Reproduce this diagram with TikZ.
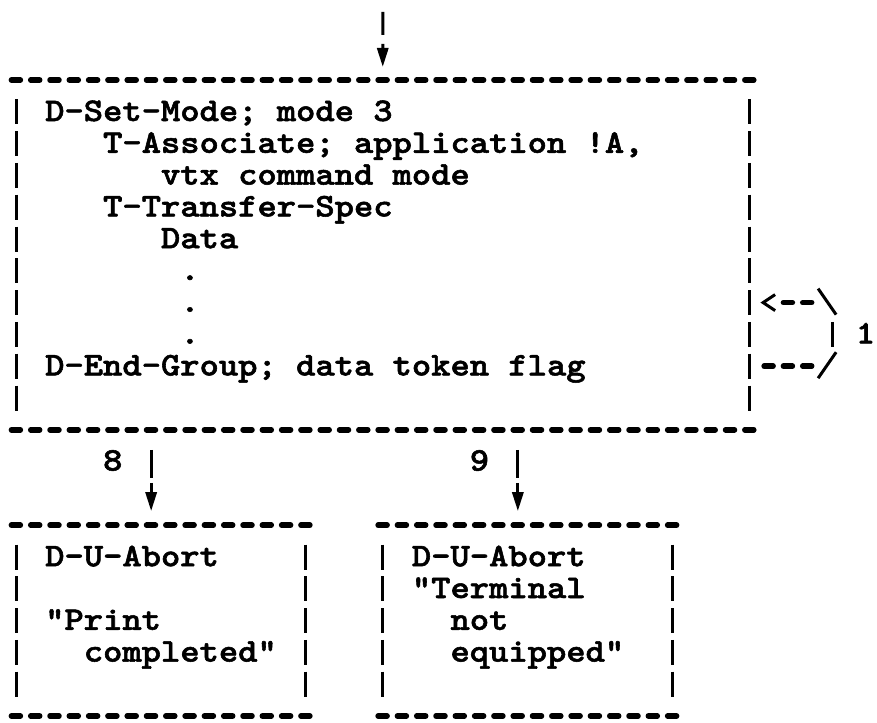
\documentclass[tikz,border=0pt]{standalone}
\usepackage{fontspec}
\usetikzlibrary{calc,arrows.meta}

% heavy typewriter face for all the printed characters
\newfontfamily\asciifont{lmmonolt10-bold}[Extension=.otf, FakeBold=1.6]

% character grid: 19.3pt per column, 31.8pt per row
\newcommand{\colx}[1]{45+19.3*(#1)}
\newcommand{\rowy}[1]{80+31.8*(#1)}
\newcommand{\asciilines}[1]{\scalebox{1.114}[1]{\begin{tabular}{@{}l@{}}#1\end{tabular}}}
\newcommand{\asciichar}[1]{\scalebox{1.114}[1]{#1}}

\tikzset{
  ascii/.style={font=\asciifont\fontsize{33}{31.8}\selectfont, inner sep=0pt},
  frame/.style={rectangle, inner sep=0pt, outer sep=0pt, draw=none},
  hdash/.style={line width=5.5pt, line cap=round, dash pattern=on 9pt off 10.3pt},
  vbar/.style={line width=3pt, dash pattern=on 25pt off 6.8pt},
  stroke/.style={line width=3pt},
  flow/.style={line width=3pt, -{Triangle[width=11pt,length=19pt]}},
}

\begin{document}
\begin{tikzpicture}[x=1pt, y=-1pt]
\useasboundingbox (0,0) rectangle (877,722);

% box outlines (frames only, text placed separately)
\node[frame, anchor=north west, minimum width=752.7pt, minimum height=349.8pt] (main) at ({\colx{-2}},{\rowy{0}}) {};
\node[frame, anchor=north west, minimum width=308.8pt, minimum height=190.8pt] (boxa) at ({\colx{-2}},{\rowy{14}}) {};
\node[frame, anchor=north west, minimum width=308.8pt, minimum height=190.8pt] (boxb) at ({\colx{17}},{\rowy{14}}) {};

\foreach \b in {main, boxa, boxb} {
  \draw[hdash] ($(\b.north west)+(5,0)$) -- ($(\b.north east)+(-5,0)$);
  \draw[hdash] ($(\b.south west)+(5,0)$) -- ($(\b.south east)+(-5,0)$);
  \draw[vbar] ($(\b.north west)+(9.65,19.3)$) -- ($(\b.south west)+(9.65,-19.3)$);
  \draw[vbar] ($(\b.north east)+(-9.65,19.3)$) -- ($(\b.south east)+(-9.65,-19.3)$);
}

% box contents
\node[ascii, anchor=north west] (maintext) at ({\colx{0}},{\rowy{1}-13.26}) {\asciilines{%
D-Set-Mode; mode 3\\
~~~T-Associate; application !A,\\
~~~~~~vtx command mode\\
~~~T-Transfer-Spec\\
~~~~~~Data\\
~~~~~~~.\\
~~~~~~~.\\
~~~~~~~.\\
D-End-Group; data token flag}};

\node[ascii, anchor=north west] (texta) at ({\colx{0}},{\rowy{15}-13.26}) {\asciilines{%
D-U-Abort\\
\\
"Print\\
~~completed"}};

\node[ascii, anchor=north west] (textb) at ({\colx{19}},{\rowy{15}-13.26}) {\asciilines{%
D-U-Abort\\
"Terminal\\
~~not\\
~~equipped"}};

% incoming arrow
\coordinate (src) at ({\colx{17}+9.65},12);
\draw[flow, dash pattern=on 23pt off 9pt on 300pt] (src) -- ($(main.north)+(0,-13)$);

% outgoing arrows 8 and 9
\coordinate (xa) at ({\colx{5}+9.65},0);
\coordinate (xb) at ({\colx{24}+9.65},0);
\draw[flow, dash pattern=on 28pt off 5pt on 300pt] ($(main.south -| xa)+(0,20)$) -- ($(boxa.north -| xa)+(0,-14)$);
\draw[flow, dash pattern=on 28pt off 5pt on 300pt] ($(main.south -| xb)+(0,20)$) -- ($(boxb.north -| xb)+(0,-14)$);
\node[ascii, anchor=base west] (lab8) at ({\colx{3}},{\rowy{12}+9}) {\asciichar{8}};
\node[ascii, anchor=base west] (lab9) at ({\colx{22}},{\rowy{12}+9}) {\asciichar{9}};

% loop 1 on the right side
\coordinate (r7) at (0,{\rowy{7}});
\coordinate (r8) at (0,{\rowy{8}});
\coordinate (r9) at (0,{\rowy{9}});
\draw[hdash] ($(main.east |- r9)+(5,0)$) -- ++(47.9,0);
\draw[stroke] ($(main.east |- r9)+(59,12)$) -- ++(18,-26);
\draw[stroke] ($(main.east |- r8)+(73,-12.5)$) -- ++(0,25);
\draw[stroke] ($(main.east |- r7)+(59,-14)$) -- ++(18,26);
\draw[hdash] ($(main.east |- r7)+(24.3,0)$) -- ++(28.6,0);
\draw[stroke, line join=miter] ($(main.east |- r7)+(16,-8)$) -- ++(-12,8) -- ++(12,8);
\node[ascii, anchor=base west] (lab1) at ({\colx{42}},{\rowy{8}+9}) {\asciichar{1}};
\end{tikzpicture}
\end{document}
